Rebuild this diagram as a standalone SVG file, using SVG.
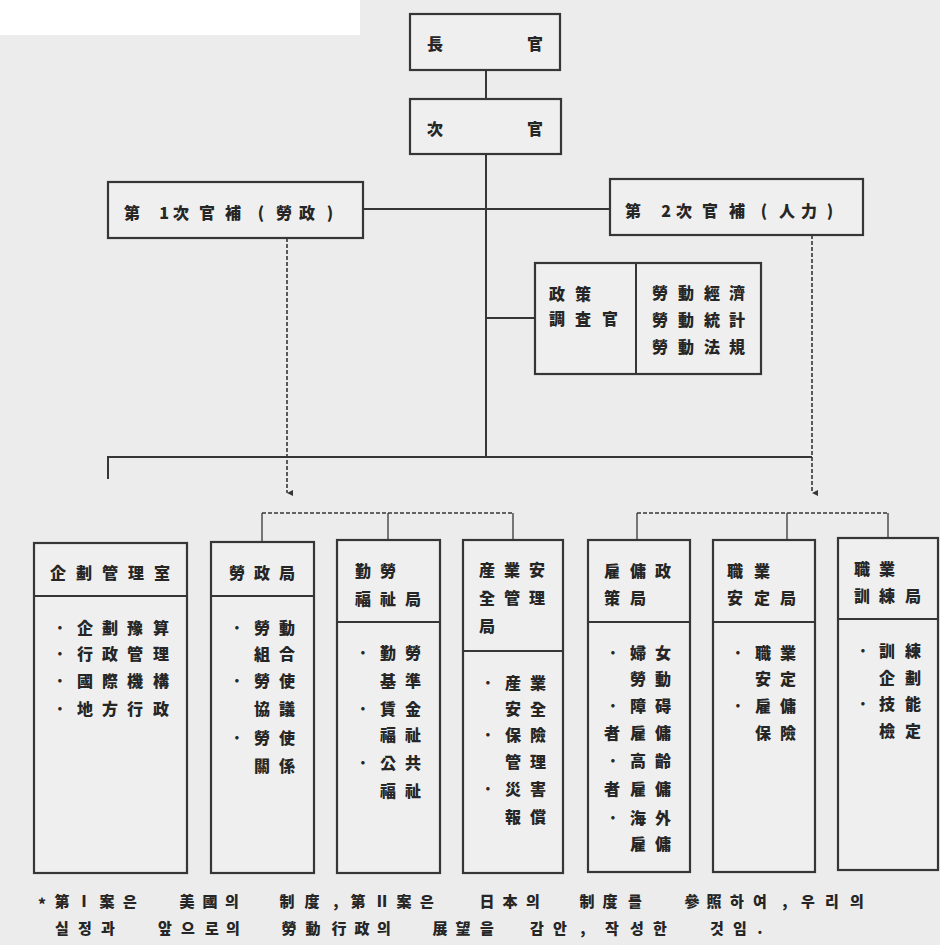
<svg xmlns="http://www.w3.org/2000/svg" width="940" height="945" viewBox="0 0 940 945">
<defs>
<style>
.box{fill:#efefef;stroke:#363636;stroke-width:2.2}
.ln{fill:none;stroke:#363636;stroke-width:2}
.thin{fill:none;stroke:#363636;stroke-width:1.3}
.dash{fill:none;stroke:#363636;stroke-width:1.6;stroke-dasharray:4 2}
.t{font-family:"Noto Sans CJK KR","Noto Sans CJK SC",sans-serif;font-size:16px;font-weight:900;fill:#262626;text-anchor:middle;dominant-baseline:central}
.f{font-family:"Noto Sans CJK KR","Noto Sans CJK SC",sans-serif;font-size:15px;font-weight:900;fill:#262626;text-anchor:middle;dominant-baseline:central}
</style>
<marker id="arr" markerWidth="8" markerHeight="8" refX="4" refY="7" orient="auto-start-reverse" markerUnits="userSpaceOnUse" viewBox="0 0 8 8">
<path d="M1,1 L4,7 L7,1 Z" fill="#363636"/>
</marker>
</defs>
<rect x="0" y="0" width="940" height="945" fill="#ececec"/>
<rect x="0" y="0" width="360" height="35" fill="#ffffff"/>

<g id="connectors">
<line class="ln" x1="486" y1="70" x2="486" y2="99"/>
<line class="ln" x1="486" y1="154" x2="486" y2="457"/>
<line class="ln" x1="363" y1="209" x2="610" y2="209"/>
<line class="ln" x1="486" y1="318" x2="535" y2="318"/>
<line class="ln" x1="107" y1="457" x2="812" y2="457" stroke-width="2.5"/>
<line class="ln" x1="108" y1="456" x2="108" y2="479"/>
<line class="dash" x1="287" y1="238" x2="287" y2="493" marker-end="url(#arr)"/>
<line class="dash" x1="812" y1="235" x2="812" y2="493" marker-end="url(#arr)"/>
<line class="dash" x1="262" y1="513" x2="513" y2="513"/>
<line class="thin" x1="262" y1="513" x2="262" y2="542"/>
<line class="thin" x1="388" y1="513" x2="388" y2="540"/>
<line class="thin" x1="513" y1="513" x2="513" y2="540"/>
<line class="dash" x1="637" y1="513" x2="888" y2="513"/>
<line class="thin" x1="637" y1="513" x2="637" y2="540"/>
<line class="thin" x1="787" y1="513" x2="787" y2="540"/>
<line class="thin" x1="888" y1="513" x2="888" y2="538"/>
</g>

<g id="n-janggwan">
<rect class="box" x="410" y="14" width="150" height="56"/>
<text class="t" x="435 535" y="43">長官</text>
</g>
<g id="n-chagwan">
<rect class="box" x="410" y="99" width="151" height="55"/>
<text class="t" x="435 535" y="128">次官</text>
</g>
<g id="n-cha1">
<rect class="box" x="108" y="182" width="255" height="56"/>
<text class="t" x="132 164 181 207 233 261 284 307 330" y="212">第1次官補(勞政)</text>
</g>
<g id="n-cha2">
<rect class="box" x="610" y="179" width="253" height="56"/>
<text class="t" x="633 666 684 710 737 764 787 809 830" y="210">第2次官補(人力)</text>
</g>
<g id="n-policy">
<rect class="box" x="535" y="263" width="226" height="111"/>
<line class="ln" x1="636" y1="263" x2="636" y2="374"/>
<text class="t" x="557 583" y="293">政策</text>
<text class="t" x="557 583 610" y="318">調査官</text>
<text class="t" x="660 686 712 737" y="292">勞動經濟</text>
<text class="t" x="660 686 712 737" y="319">勞動統計</text>
<text class="t" x="660 686 712 737" y="346">勞動法規</text>
</g>

<g id="n-planning">
<rect class="box" x="34" y="543" width="153" height="330"/>
<line class="ln" x1="34" y1="596" x2="187" y2="596"/>
<text class="t" x="58 84 110 136 162" y="572">企劃管理室</text>
<text class="t" x="60 85 110 135 161" y="627">·企劃豫算</text>
<text class="t" x="60 85 110 135 161" y="653">·行政管理</text>
<text class="t" x="60 85 110 135 161" y="680">·國際機構</text>
<text class="t" x="60 85 110 135 161" y="708">·地方行政</text>
</g>

<g id="n-labor-policy">
<rect class="box" x="211" y="542" width="103" height="331"/>
<line class="ln" x1="211" y1="596" x2="314" y2="596"/>
<text class="t" x="237 262 287" y="572">勞政局</text>
<text class="t" x="237 262 287" y="627">·勞動</text>
<text class="t" x="262 287" y="653">組合</text>
<text class="t" x="237 262 287" y="680">·勞使</text>
<text class="t" x="262 287" y="708">協議</text>
<text class="t" x="237 262 287" y="737">·勞使</text>
<text class="t" x="262 287" y="765">關係</text>
</g>

<g id="n-welfare">
<rect class="box" x="337" y="540" width="103" height="333"/>
<line class="ln" x1="337" y1="622" x2="440" y2="622"/>
<text class="t" x="363 388" y="570">勤勞</text>
<text class="t" x="363 388 413" y="598">福祉局</text>
<text class="t" x="363 388 413" y="652">·勤勞</text>
<text class="t" x="388 413" y="680">基準</text>
<text class="t" x="363 388 413" y="708">·賃金</text>
<text class="t" x="388 413" y="734">福祉</text>
<text class="t" x="363 388 413" y="762">·公共</text>
<text class="t" x="388 413" y="790">福祉</text>
</g>

<g id="n-safety">
<rect class="box" x="463" y="540" width="100" height="333"/>
<line class="ln" x1="463" y1="651" x2="563" y2="651"/>
<text class="t" x="487 512 537" y="569">産業安</text>
<text class="t" x="487 512 537" y="597">全管理</text>
<text class="t" x="487" y="625">局</text>
<text class="t" x="488 513 538" y="682">·産業</text>
<text class="t" x="513 538" y="708">安全</text>
<text class="t" x="488 513 538" y="734">·保險</text>
<text class="t" x="513 538" y="761">管理</text>
<text class="t" x="488 513 538" y="788">·災害</text>
<text class="t" x="513 538" y="816">報償</text>
</g>

<g id="n-employment">
<rect class="box" x="588" y="540" width="102" height="332"/>
<line class="ln" x1="588" y1="622" x2="690" y2="622"/>
<text class="t" x="612 638 663" y="570">雇傭政</text>
<text class="t" x="612 638" y="597">策局</text>
<text class="t" x="613 638 663" y="652">·婦女</text>
<text class="t" x="638 663" y="678">勞動</text>
<text class="t" x="613 638 663" y="705">·障碍</text>
<text class="t" x="612 638 663" y="732">者雇傭</text>
<text class="t" x="613 638 663" y="760">·高齡</text>
<text class="t" x="612 638 663" y="788">者雇傭</text>
<text class="t" x="613 638 663" y="817">·海外</text>
<text class="t" x="638 663" y="843">雇傭</text>
</g>

<g id="n-job-security">
<rect class="box" x="713" y="540" width="102" height="332"/>
<line class="ln" x1="713" y1="622" x2="815" y2="622"/>
<text class="t" x="735 762" y="570">職業</text>
<text class="t" x="735 762 788" y="597">安定局</text>
<text class="t" x="738 763 788" y="652">·職業</text>
<text class="t" x="763 788" y="678">安定</text>
<text class="t" x="738 763 788" y="705">·雇傭</text>
<text class="t" x="763 788" y="732">保險</text>
</g>

<g id="n-training">
<rect class="box" x="838" y="538" width="100" height="332"/>
<line class="ln" x1="838" y1="619" x2="938" y2="619"/>
<text class="t" x="862 887" y="568">職業</text>
<text class="t" x="862 887 913" y="595">訓練局</text>
<text class="t" x="863 887 913" y="650">·訓練</text>
<text class="t" x="887 913" y="677">企劃</text>
<text class="t" x="863 887 913" y="703">·技能</text>
<text class="t" x="887 913" y="730">檢定</text>
</g>

<g id="footnote">
<text class="f" x="42" y="903">*</text>
<text class="f" x="62 84 107 130 187 210 232 287 312 336 358 382 404 427 487 510 533 587 610 635 692 714 737 760 785 808 832 857" y="900">第Ⅰ案은美國의制度,第Ⅱ案은日本의制度를參照하여,우리의</text>
<text class="f" x="62 85 108 165 188 212 233 289 313 339 362 384 440 463 487 537 560 583 612 637 660 717 740 760" y="927">실정과앞으로의勞動行政의展望을감안,작성한것임.</text>
</g>
</svg>
